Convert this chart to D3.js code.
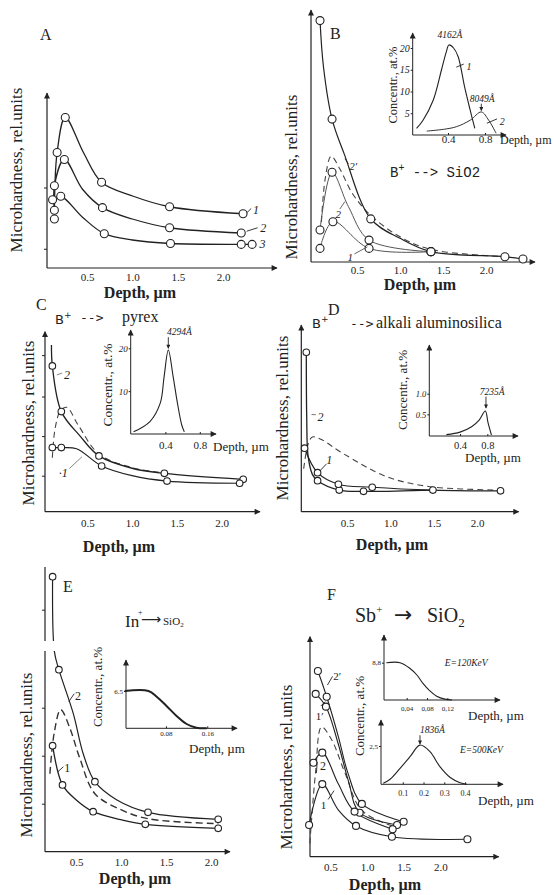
<!DOCTYPE html>
<html>
<head>
<meta charset="utf-8">
<title>Microhardness vs depth</title>
<script src="https://cdnjs.cloudflare.com/ajax/libs/d3/7.8.5/d3.min.js"></script>
<style>
  body { margin: 0; background: #fff; }
  text { font-family: "Liberation Serif", "DejaVu Serif", serif; fill: #222; }
</style>
</head>
<body>
<svg id="fig" width="554" height="895"></svg>
<script>
// ---- data ----
// main panels: [depth (um), microhardness (rel. units), 1 = measured point drawn as circle]
const depthTicks = [0.5, 1.0, 1.5, 2.0];

const hardA1 = [[0.14,28,1],[0.17,66,1],[0.26,86,1],[0.46,66],[0.66,49,1],[1.01,41],[1.41,35,1],[2.22,31,1]];
const hardA2 = [[0.14,33,1],[0.14,47,1],[0.25,62,1],[0.45,45],[0.67,34.5,1],[1.0,28],[1.41,23,1],[2.2,20,1]];
const hardA3 = [[0.12,39,1],[0.21,41,1],[0.45,29],[0.69,19.6,1],[1.0,16],[1.42,14,1],[2.2,13.5,1],[2.32,13.5,1]];
const ticksA = [11, 46];

const hardB2p = [[0.07,95.8,1],[0.11,77.5],[0.21,56.7,1],[0.35,43],[0.66,17.1,1],[1.0,9.4],[1.36,4.1,1],[2.22,2.1,1],[2.43,1.2,1]];
const hardB2  = [[0.07,12.7,1],[0.21,35.6,1],[0.4,22],[0.64,8.7,1],[1.36,4.1,1]];
const hardB1  = [[0.07,5.4,1],[0.22,16,1],[0.64,5.4,1],[1.36,4.1,1]];
const hardBd  = [[0.08,12],[0.13,33],[0.2,42],[0.3,37],[0.45,27],[0.66,18.5],[1.0,10],[1.36,5],[2.2,2.1]];

const hardC2 = [[0.1,92.6],[0.11,81,1],[0.21,55.6,1],[0.42,42],[0.63,31,1],[1.01,24],[1.36,21.3,1],[2.24,18,1]];
const hardC1 = [[0.11,35.6,1],[0.21,35.6,1],[0.38,35],[0.66,25.4,1],[1.0,20],[1.39,17,1],[2.2,15.8,1]];
const hardCd = [[0.11,30],[0.14,46],[0.2,56],[0.27,58],[0.4,48],[0.63,32],[1.0,24.5],[1.36,21.5]];
const ticksC = [20, 42, 64, 87];

const hardD1 = [[0.01,34,1],[0.16,20.9,1],[0.4,14.7,1],[0.79,13.1,1],[1.49,11.6,1],[2.27,11.2,1]];
const hardD2 = [[0.03,85.4,1],[0.035,50],[0.05,30],[0.1,20],[0.16,16.6,1],[0.41,11.6,1],[0.69,10.9,1],[1.49,11.6]];
const hardDd = [[0.0,23],[0.05,36],[0.1,40],[0.19,39],[0.46,31],[0.96,18.7],[1.46,13.4],[2.27,11.6]];

const hardE2 = [[0.24,150,1],[0.26,100],[0.31,91,1],[0.47,69],[0.58,49],[0.71,35,1],[0.95,26],[1.3,19.7,1],[2.08,16.2,1]];
const hardE1 = [[0.24,53,1],[0.35,33.4,1],[0.5,26],[0.69,20,1],[1.0,16],[1.27,13.7,1],[2.08,11.7,1]];
const hardEd = [[0.21,39],[0.26,60],[0.33,71],[0.43,62],[0.54,47],[0.71,29],[1.0,21],[1.3,16.5],[2.08,14]];
const ticksE = [24, 48, 72, 128];

const hardF2p = [[0.33,84.4,1],[0.45,72.7,1],[0.61,54.5],[0.74,38],[0.93,24,1],[1.5,15.9,1]];
const hardF1p = [[0.30,74,1],[0.44,68.2,1],[0.61,51],[0.75,34],[0.9,20,1],[1.41,14.4,1]];
const hardF2  = [[0.27,42.7,1],[0.39,47.3,1],[0.61,33],[0.83,20.5,1],[1.35,12.5,1]];
const hardF1  = [[0.21,14.4,1],[0.39,33,1],[0.61,21.2],[0.85,14,1],[1.34,9.1,1],[2.37,7.9,1]];
const hardFd  = [[0.22,6],[0.3,39],[0.38,59],[0.52,53],[0.7,38],[0.93,21],[1.38,13.6]];

// insets: [depth (um), concentration (at.%)]
const concB1 = [[0.06,1.5],[0.13,3.4],[0.24,8],[0.33,15],[0.38,19],[0.41,20.7],[0.46,20],[0.51,18],[0.58,11],[0.64,5.7],[0.69,1.5]];
const concB2 = [[0.17,0.9],[0.35,1.3],[0.49,1.9],[0.64,3.4],[0.76,5.3],[0.84,3.4],[0.92,0.4]];
const concC  = [[0.03,0.5],[0.22,2.9],[0.34,7.2],[0.385,13.4],[0.434,19.6],[0.49,13.4],[0.54,7.2],[0.59,2.1],[0.62,0.5]];
const concD  = [[0.2,0.01],[0.4,0.07],[0.57,0.2],[0.68,0.36],[0.77,0.58],[0.81,0.3],[0.86,0]];
const concE  = [[0,6.5],[0.046,6.5],[0.062,5.5],[0.081,3.9],[0.101,2.1],[0.12,0.75],[0.139,0.1],[0.159,0]];
const concF1 = [[0,8.8],[0.027,8.8],[0.046,7.5],[0.06,5.9],[0.072,3.9],[0.085,2.2],[0.099,0.9],[0.115,0.2],[0.129,0]];
const concF2 = [[0.006,0.07],[0.039,0.33],[0.087,1.04],[0.135,1.8],[0.183,2.56],[0.231,2.13],[0.279,1.15],[0.327,0.46],[0.376,0.1],[0.408,0]];

const insetDepthB = [0.4, 0.8], insetConcB = [5, 10, 15, 20];
const insetDepthC = [0.4, 0.8], insetConcC = [10, 20];
const insetDepthD = [0.4, 0.8], insetConcD = [0.5, 1.0];
const insetDepthE = [0.08, 0.16], insetConcE = [6.5];
const insetDepthF1 = [0.04, 0.08, 0.12], insetConcF1 = [8.8];
const insetDepthF2 = [0.1, 0.2, 0.3, 0.4], insetConcF2 = [2.5];

// ---- drawing ----
const svg = d3.select("#fig");
const ink = "#222";
const defs = svg.append("defs");
[["arr", 9, 6], ["arrS", 5, 4]].forEach(([id, w, h]) => {
  defs.append("marker").attr("id", id).attr("viewBox", "0 0 10 10")
    .attr("refX", 9).attr("refY", 5).attr("markerWidth", w).attr("markerHeight", h)
    .attr("markerUnits", "userSpaceOnUse").attr("orient", "auto")
    .append("path").attr("d", "M0,0L10,5L0,10z").attr("fill", ink);
});

function frame(g, p) {
  g.append("line").attr("x1", p.ax).attr("y1", p.base).attr("x2", p.right).attr("y2", p.base)
    .attr("stroke", ink).attr("stroke-width", p.sw || 1.2).attr("marker-end", "url(#arr)");
  g.append("line").attr("x1", p.ax).attr("y1", p.base).attr("x2", p.ax).attr("y2", p.top)
    .attr("stroke", ink).attr("stroke-width", p.sw || 1.2).attr("marker-end", p.noArrow ? null : "url(#arr)");
}

function mainPanel(p) {
  const g = svg.append("g");
  const x = d3.scaleLinear().domain([0, 2]).range(p.xr);
  const y = d3.scaleLinear().domain(p.yd || [0, 100]).range(p.yr);
  frame(g, p);
  const xa = g.append("g").attr("transform", `translate(0,${p.base})`)
    .call(d3.axisBottom(x).tickValues(depthTicks).tickFormat(d3.format(".1f")).tickSize(0).tickPadding(p.pad));
  xa.select(".domain").remove();
  xa.attr("font-size", 11).selectAll("text").attr("fill", "#333");
  if (p.yt) {
    const ya = g.append("g").attr("transform", `translate(${p.ax},0)`)
      .call(d3.axisLeft(y).tickValues(p.yt).tickFormat("").tickSize(3));
    ya.select(".domain").remove();
    ya.selectAll("line").attr("stroke", ink);
  }
  g.append("text").attr("transform", `translate(${p.yl[0]},${p.yl[1]}) rotate(-90)`)
    .attr("text-anchor", "middle").attr("font-size", 17).text("Microhardness, rel.units");
  g.append("text").attr("x", p.xl[0]).attr("y", p.xl[1]).attr("text-anchor", "middle")
    .attr("font-size", 16).attr("font-weight", "bold").text("Depth, µm");
  g.append("text").attr("x", p.letter[0]).attr("y", p.letter[1]).attr("font-size", 16).text(p.name);
  return { g, x, y };
}

function inset(p) {
  const g = svg.append("g");
  const x = d3.scaleLinear().domain(p.xd).range(p.xr);
  const y = d3.scaleLinear().domain(p.yd).range(p.yr);
  frame(g, { ...p, sw: 1 });
  const xa = g.append("g").attr("transform", `translate(0,${p.base})`)
    .call(d3.axisBottom(x).tickValues(p.xt).tickFormat(p.xf).tickSize(-2).tickPadding(p.pad));
  xa.select(".domain").remove();
  xa.attr("font-size", p.fs).selectAll("text").attr("fill", "#333");
  xa.selectAll("line").attr("stroke", ink);
  const ya = g.append("g").attr("transform", `translate(${p.ax},0)`)
    .call(d3.axisLeft(y).tickValues(p.yt).tickFormat(p.yf).tickSize(2).tickPadding(1));
  ya.select(".domain").remove();
  ya.attr("font-size", p.yfs).selectAll("text").attr("fill", "#333").attr("font-style", p.yit ? "italic" : null);
  ya.selectAll("line").attr("stroke", ink);
  if (p.cl) g.append("text").attr("transform", `translate(${p.cl[0]},${p.cl[1]}) rotate(-90)`)
    .attr("text-anchor", "middle").attr("font-size", p.cls || 13).text("Concentr., at.%");
  g.append("text").attr("x", p.dl[0]).attr("y", p.dl[1]).attr("font-size", p.dls || 13).text("Depth, µm");
  return { g, x, y };
}

const smooth = d3.curveCatmullRom.alpha(0.5);
function curve(P, pts, st = {}) {
  const line = d3.line().x(d => P.x(d[0])).y(d => P.y(d[1])).curve(smooth);
  P.g.append("path").attr("d", line(pts)).attr("fill", "none")
    .attr("stroke", st.color || ink).attr("stroke-width", st.width || 1.2)
    .attr("stroke-dasharray", st.dash || null);
}
function dots(P, pts, r) {
  P.g.append("g").selectAll("circle").data(pts.filter(d => d[2])).join("circle")
    .attr("cx", d => P.x(d[0])).attr("cy", d => P.y(d[1])).attr("r", r)
    .attr("fill", "#fff").attr("stroke", ink).attr("stroke-width", 1.1);
}
function note(P, vx, vy, txt, o = {}) {
  return P.g.append("text").attr("x", P.x(vx)).attr("y", P.y(vy))
    .attr("font-size", o.size || 12).attr("font-style", o.italic === false ? null : "italic")
    .attr("text-anchor", o.anchor || "start").attr("fill", o.color || ink).text(txt);
}
function lead(P, a, b, o = {}) {
  P.g.append("line").attr("x1", P.x(a[0])).attr("y1", P.y(a[1])).attr("x2", P.x(b[0])).attr("y2", P.y(b[1]))
    .attr("stroke", o.color || ink).attr("stroke-width", o.width || 0.9)
    .attr("marker-end", o.arrow ? "url(#arrS)" : null);
}
const fmt1 = d3.format(".1f");
const comma = f => d => d3.format(f)(d).replace(".", ",");

// ---------- A ----------
const A = mainPanel({ name: "A", letter: [40, 40], xr: [41.7, 223.1], yr: [268, 93],
  ax: 47, base: 268, top: 93, right: 277, pad: 5, yt: ticksA, yl: [22, 170], xl: [140, 298] });
[hardA1, hardA2, hardA3].forEach(s => curve(A, s, { width: 1.3 }));
[hardA1, hardA2, hardA3].forEach(s => dots(A, s, 4));
lead(A, [2.26, 31.5], [2.31, 34]); note(A, 2.33, 31, "1", { size: 12 });
lead(A, [2.26, 21], [2.38, 23]); note(A, 2.41, 20.5, "2", { size: 12 });
note(A, 2.4, 11.5, "3", { size: 12 });

// ---------- B ----------
const B = mainPanel({ name: "B", letter: [330, 39], xr: [314, 486], yr: [262, 10],
  ax: 311, base: 262, top: 10, right: 535, pad: 4, yl: [297, 177], xl: [420, 290] });
curve(B, hardBd, { color: "#444", width: 1.1, dash: "6,4" });
curve(B, hardB2p, { width: 1.2 });
curve(B, hardB2, { color: "#555", width: 1.0 });
curve(B, hardB1, { color: "#555", width: 1.0 });
[hardB2p, hardB2, hardB1].forEach(s => dots(B, s, 4));
lead(B, [0.36, 41], [0.4, 39]); note(B, 0.41, 36.5, "2′", { size: 11, color: "#444" });
lead(B, [0.3, 21], [0.36, 24], { color: "#555" }); note(B, 0.25, 17.5, "2", { size: 11, color: "#444" });
lead(B, [0.47, 3.2], [0.62, 6], { color: "#555" }); note(B, 0.39, 0.3, "1", { size: 11, color: "#444" });
B.g.append("text").attr("x", 390).attr("y", 177).attr("fill", "#666").attr("font-size", 14)
  .style("font-family", '"Liberation Mono", "DejaVu Sans Mono", monospace')
  .call(t => { t.append("tspan").text("B"); t.append("tspan").attr("dy", -6).attr("font-size", 10).text("+");
               t.append("tspan").attr("dy", 6).text("  --> SiO2"); });

const Bi = inset({ xd: [0, 1], xr: [411, 503.5], yd: [0, 20], yr: [135, 48], ax: 412.7, base: 135, top: 33, right: 506,
  xt: insetDepthB, xf: fmt1, fs: 11, pad: 0, yt: insetConcB, yf: d => d, yfs: 10, yit: true,
  cl: [397, 85], cls: 12.5, dl: [500, 144], dls: 12 });
curve(Bi, concB1, { width: 1.1 }); curve(Bi, concB2, { width: 1.0, color: "#333" });
note(Bi, 0.42, 22.2, "4162Å", { size: 9.5, anchor: "middle" });
note(Bi, 0.77, 7.7, "8049Å", { size: 9.5, anchor: "middle" });
lead(Bi, [0.76, 7.2], [0.76, 5.6], { arrow: true });
lead(Bi, [0.49, 15.6], [0.57, 16.3]); note(Bi, 0.6, 15, "1", { size: 10 });
lead(Bi, [0.82, 2.7], [0.93, 3.7]); note(Bi, 0.96, 2.4, "2", { size: 10 });

// ---------- C ----------
const C = mainPanel({ name: "C", letter: [36, 310], xr: [42.5, 221.7], yr: [511.7, 331.7],
  ax: 45, base: 511.7, top: 331.7, right: 260, pad: 8, yt: ticksC, yl: [34, 423], xl: [119, 552] });
curve(C, hardCd, { color: "#444", width: 1.1, dash: "6,4" });
curve(C, hardC2, { width: 1.3 });
curve(C, hardC1, { width: 1.2 });
[hardC2, hardC1].forEach(s => dots(C, s, 3.3));
lead(C, [0.16, 76], [0.22, 77], { color: "#777" }); note(C, 0.24, 74, "2", { size: 12, color: "#777" });
lead(C, [0.3, 24], [0.44, 30.5], { color: "#777" }); note(C, 0.18, 19.5, "·1", { size: 12 });
C.g.append("text").attr("y", 324)
  .call(t => {
    t.append("tspan").attr("x", 55).attr("font-size", 13).style("font-family", '"DejaVu Sans", sans-serif').text("B");
    t.append("tspan").attr("dy", -6).attr("font-size", 9).style("font-family", '"DejaVu Sans", sans-serif').text("+");
    t.append("tspan").attr("x", 80).attr("dy", 4).attr("font-size", 13).style("font-family", '"DejaVu Sans Mono", monospace').text("-->");
    t.append("tspan").attr("x", 122).attr("font-size", 16).text("pyrex");
  });

const Ci = inset({ xd: [0, 1], xr: [131, 217], yd: [0, 20], yr: [434, 348.3], ax: 130.7, base: 434, top: 330, right: 216,
  xt: insetDepthC, xf: fmt1, fs: 11, pad: 7, yt: insetConcC, yf: d => d, yfs: 9, yit: true,
  cl: [112, 385], cls: 13.5, dl: [213, 451], dls: 13 });
curve(Ci, concC, { width: 1.1 });
note(Ci, 0.42, 23.1, "4294Å", { size: 9.5 });
lead(Ci, [0.434, 22.6], [0.434, 20], { arrow: true });

// ---------- D ----------
const D = mainPanel({ name: "D", letter: [328, 315], xr: [303.7, 477.1], yr: [511.7, 325],
  ax: 301.3, base: 511.7, top: 325, right: 518.7, pad: 8, yl: [288, 418], xl: [392, 550] });
curve(D, hardDd, { color: "#444", width: 1.1, dash: "6,4" });
curve(D, hardD2, { width: 1.3 });
curve(D, hardD1, { width: 1.2 });
[hardD2, hardD1].forEach(s => dots(D, s, 3.3));
lead(D, [0.09, 52], [0.14, 52], { color: "#666" }); note(D, 0.16, 48.5, "2", { size: 12, color: "#555" });
lead(D, [0.19, 22], [0.26, 25.5]); note(D, 0.26, 25.5, "1", { size: 12 });
D.g.append("text").attr("y", 328)
  .call(t => {
    t.append("tspan").attr("x", 312).attr("font-size", 13).style("font-family", '"DejaVu Sans", sans-serif').text("B");
    t.append("tspan").attr("dy", -6).attr("font-size", 9).style("font-family", '"DejaVu Sans", sans-serif').text("+");
    t.append("tspan").attr("x", 350).attr("dy", 6).attr("font-size", 13).style("font-family", '"DejaVu Sans Mono", monospace').text("-->");
    t.append("tspan").attr("x", 376).attr("font-size", 16).text("alkali aluminosilica");
  });

const Di = inset({ xd: [0, 1], xr: [432.7, 501], yd: [0, 1], yr: [435, 393.7], ax: 429.3, base: 436, top: 345, right: 518,
  xt: insetDepthD, xf: fmt1, fs: 10.5, pad: 5.5, yt: insetConcD, yf: fmt1, yfs: 8.5, yit: true,
  cl: [407, 390], cls: 13, dl: [465, 462], dls: 13 });
curve(Di, concD, { width: 1.1 });
note(Di, 0.69, 0.98, "7235Å", { size: 9.5 });
lead(Di, [0.78, 0.93], [0.78, 0.65], { arrow: true });

// ---------- E ----------
const E = mainPanel({ name: "E", letter: [63, 592], xr: [31, 211], yd: [0, 100, 150], yr: [851.7, 651.7, 576.7],
  ax: 45, base: 851.7, top: 567, noArrow: true, right: 230, pad: 6.5, yt: ticksE, yl: [32, 755], xl: [135, 884] });
curve(E, hardEd, { color: "#333", width: 1.4, dash: "7,4" });
curve(E, hardE2, { width: 1.2 });
curve(E, hardE1, { width: 1.3 });
E.g.append("rect").attr("x", 38).attr("y", 641).attr("width", 24).attr("height", 10).attr("fill", "#fff");
[hardE2, hardE1].forEach(s => dots(E, s, 3.3));
lead(E, [0.42, 75], [0.48, 79]); note(E, 0.49, 76, "2", { size: 12, italic: false });
lead(E, [0.3, 40], [0.36, 42.5]); note(E, 0.37, 40, "1", { size: 12, italic: false });
E.g.append("text").attr("y", 627)
  .call(t => {
    t.append("tspan").attr("x", 125).attr("font-size", 17).text("In");
    t.append("tspan").attr("x", 138).attr("dy", -12).attr("font-size", 8).text("+");
    t.append("tspan").attr("x", 141).attr("dy", 9).attr("font-size", 14).style("font-family", '"DejaVu Sans", sans-serif').text("⟶");
    t.append("tspan").attr("x", 163).attr("dy", 1).attr("font-size", 11).text("SiO");
    t.append("tspan").attr("dy", 2).attr("font-size", 7).text("2");
  });

const Ei = inset({ xd: [0, 0.2], xr: [124.7, 227.9], yd: [0, 6.5], yr: [728.3, 691], ax: 126, base: 728.3, top: 660, right: 237,
  xt: insetDepthE, xf: d3.format(".2f"), fs: 7, pad: 3, yt: insetConcE, yf: fmt1, yfs: 7, yit: false,
  cl: [102, 687], cls: 13, dl: [189, 753], dls: 13 });
curve(Ei, concE, { width: 2 });

// ---------- F ----------
const F = mainPanel({ name: "F", letter: [327, 600], xr: [293.7, 440.3], yr: [856.7, 636.7],
  ax: 310, base: 856.7, top: 636.7, right: 498.7, pad: 6.5, yl: [292, 767], xl: [385, 890] });
curve(F, hardFd, { color: "#444", width: 1.1, dash: "6,4" });
[hardF2p, hardF1p, hardF2, hardF1].forEach(s => curve(F, s, { width: 1.1 }));
[hardF2p, hardF1p, hardF2, hardF1].forEach(s => dots(F, s, 3.5));
lead(F, [0.46, 78], [0.53, 82]); note(F, 0.54, 80.5, "2′", { size: 11, italic: false });
lead(F, [0.37, 68.5], [0.43, 70.5]); note(F, 0.3, 62, "1′", { size: 11, italic: false });
note(F, 0.36, 39.5, "2", { size: 12, italic: false }); lead(F, [0.32, 43], [0.31, 38]);
lead(F, [0.47, 26], [0.55, 30]); note(F, 0.37, 21.5, "1", { size: 11, italic: false });
F.g.append("text").attr("y", 622)
  .call(t => {
    t.append("tspan").attr("x", 355).attr("font-size", 20).text("Sb");
    t.append("tspan").attr("dy", -9).attr("font-size", 11).text("+");
    t.append("tspan").attr("x", 394).attr("dy", 9).attr("font-size", 22).style("font-family", '"DejaVu Sans", sans-serif').text("→");
    t.append("tspan").attr("x", 427).attr("font-size", 20).text("SiO");
    t.append("tspan").attr("dy", 5).attr("font-size", 13).text("2");
  });

const Fi1 = inset({ xd: [0, 0.2], xr: [386.4, 488], yd: [0, 8.8], yr: [700, 662.7], ax: 384, base: 700, top: 635, right: 500,
  xt: insetDepthF1, xf: comma(".2f"), fs: 7, pad: 6, yt: insetConcF1, yf: comma(".1f"), yfs: 7, yit: false,
  dl: [468, 720], dls: 13 });
curve(Fi1, concF1, { width: 1.1 });
note(Fi1, 0.115, 8, "E=120KeV", { size: 9.5 });

const Fi2 = inset({ xd: [0, 0.5], xr: [382, 485.8], yd: [0, 2.5], yr: [784.3, 746], ax: 381, base: 784.3, top: 720, right: 503,
  xt: insetDepthF2, xf: fmt1, fs: 8, pad: 6, yt: insetConcF2, yf: comma(".1f"), yfs: 7, yit: false,
  cl: [364, 716], cls: 13, dl: [478, 805], dls: 13 });
curve(Fi2, concF2, { width: 1.1 });
note(Fi2, 0.183, 3.35, "1836Å", { size: 9.5 });
lead(Fi2, [0.183, 3.2], [0.183, 2.63], { arrow: true });
note(Fi2, 0.376, 2.05, "E=500KeV", { size: 9.5 });
</script>
</body>
</html>
